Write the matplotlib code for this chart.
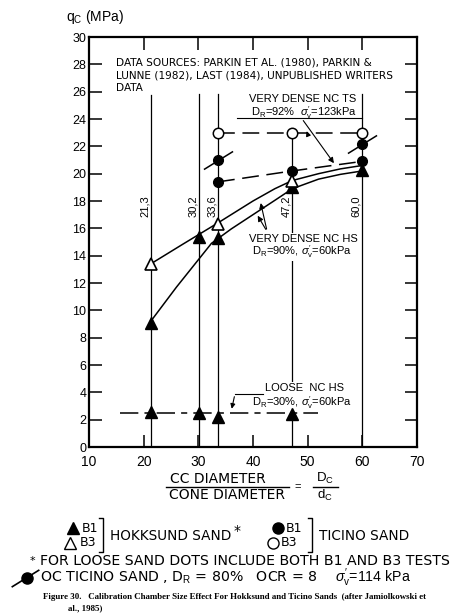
import matplotlib
matplotlib.use('Agg')
import matplotlib.pyplot as plt
from matplotlib.path import Path

plt.rcParams['font.family'] = ['Liberation Sans', 'DejaVu Sans']
plt.rcParams['mathtext.fontset'] = 'custom'
plt.rcParams['mathtext.rm'] = 'Liberation Sans'
plt.rcParams['mathtext.it'] = 'Liberation Sans:italic'
plt.rcParams['mathtext.bf'] = 'Liberation Sans:bold'

# ---------------- data ----------------
dc_ratio = [21.3, 30.2, 33.6, 47.2, 60.0]
ratio_labels = ['21,3', '30,2', '33,6', '47,2', '60,0']
guide_top = [25.75, 25.85, 25.85, 23.0, 25.8]

# Hokksund sand, very dense NC HS
hok_b1_x = [21.3, 30.2, 33.6, 47.2, 60.0]
hok_b1_q = [9.1, 15.4, 15.3, 19.0, 20.3]
hok_b3_x = [21.3, 33.6, 47.2]
hok_b3_q = [13.4, 16.3, 19.5]

# Ticino sand, very dense NC TS
tic_b1_x = [33.6, 47.2, 60.0]
tic_b1_q = [19.4, 20.2, 20.9]
tic_b3_x = [33.6, 47.2, 60.0]
tic_b3_q = [23.0, 23.0, 23.0]

# OC Ticino sand
oc_x = [33.6, 60.0]
oc_q = [21.0, 22.2]

# Loose NC HS
loose_x = [21.3, 30.2, 33.6, 47.2]
loose_q = [2.55, 2.5, 2.2, 2.45]
loose_line_x = [15.7, 51.8]
loose_line_q = [2.5, 2.5]

# hand-drawn trend curves (very dense NC HS)
upper_curve_x = [21.3, 27.0, 33.6, 40.0, 44.0, 47.2, 52.0, 56.0, 60.0]
upper_curve_q = [13.4, 14.8, 16.4, 18.0, 18.9, 19.5, 20.0, 20.35, 20.6]
lower_curve_x = [21.3, 26.0, 32.4, 36.0, 40.0, 44.0, 47.2, 52.0, 56.0, 60.0]
lower_curve_q = [9.2, 11.7, 14.9, 15.95, 17.0, 18.05, 18.9, 19.6, 19.95, 20.2]

x_ticks = [10, 20, 30, 40, 50, 60, 70]
y_ticks = list(range(0, 31, 2))

# ---------------- figure ----------------
W, H = 454, 614
fig = plt.figure(figsize=(W / 100, H / 100), dpi=100)
L, R, T, B = 89, 417, 37, 447
ax = fig.add_axes([L / W, 1 - B / H, (R - L) / W, (B - T) / H])
ax.set_xlim(10, 70)
ax.set_ylim(0, 30)
ax.set_xticks(x_ticks)
ax.set_yticks(y_ticks)
for s in ax.spines.values():
    s.set_linewidth(1.6)
ax.tick_params(axis='both', direction='in', length=9, width=1.1, color='black')
ax.tick_params(axis='x', top=True, labelsize=10, pad=6)
ax.tick_params(axis='y', right=True, labelsize=9, pad=2)

lw = 1.1
# vertical guide lines
for xv, top in zip(dc_ratio, guide_top):
    ax.plot([xv, xv], [0, top], color='black', lw=0.9, zorder=2)
for xv, lab in zip(dc_ratio, ratio_labels):
    ax.annotate(lab, xy=(xv, 17.6), xytext=(-4.5, 0), textcoords='offset points',
                rotation=90, ha='center', va='center', fontsize=8)

# curves
ax.plot(upper_curve_x, upper_curve_q, color='black', lw=lw, zorder=3)
ax.plot(lower_curve_x, lower_curve_q, color='black', lw=lw, zorder=3)
ax.plot(tic_b1_x, tic_b1_q, color='black', lw=lw, dashes=(11, 5), zorder=3)
ax.plot(tic_b3_x, tic_b3_q, color='black', lw=lw, dashes=(11, 5), zorder=3)
ax.plot(loose_line_x, loose_line_q, color='black', lw=lw, dashes=(12, 4, 4, 4), zorder=3)

# markers
ax.plot(hok_b1_x, hok_b1_q, ls='none', marker='^', ms=8.5, color='black', zorder=5)
ax.plot(loose_x, loose_q, ls='none', marker='^', ms=8.5, color='black', zorder=5)
ax.plot(hok_b3_x, hok_b3_q, ls='none', marker='^', ms=8.5, mfc='white', mec='black', mew=1.2, zorder=6)
ax.plot(tic_b1_x, tic_b1_q, ls='none', marker='o', ms=7, color='black', zorder=5)
ax.plot(tic_b3_x, tic_b3_q, ls='none', marker='o', ms=7.5, mfc='white', mec='black', mew=1.1, zorder=5)
slash = Path([(-1, -0.62), (1, 0.62)], [Path.MOVETO, Path.LINETO])
ax.plot(oc_x, oc_q, ls='none', marker='o', ms=7, color='black', zorder=5)
ax.plot(oc_x, oc_q, ls='none', marker=slash, ms=21, mew=1.1, color='black', zorder=5)

# annotations inside the plot
wide = ['DejaVu Sans']
tkw = dict(fontsize=7.6, va='center', family=wide)
ax.text(14.9, 28.1, 'DATA SOURCES: PARKIN ET AL. (1980), PARKIN &', ha='left', **tkw)
ax.text(14.9, 27.15, 'LUNNE (1982), LAST (1984), UNPUBLISHED WRITERS', ha='left', **tkw)
ax.text(14.9, 26.25, 'DATA', ha='left', **tkw)

bb = dict(facecolor='white', edgecolor='none', pad=0.6)
ax.text(49.05, 25.5, 'VERY DENSE NC TS', ha='center', fontsize=8, va='center')
ax.text(49.4, 24.45, r'D$_\mathrm{R}$=92%  $\sigma_\mathrm{v}^{\prime}$=123kPa', ha='center',
        fontsize=8, va='center')
ax.plot([37.1, 59.9], [24.05, 24.05], color='black', lw=0.8)
ax.annotate('', xy=(55.1, 20.6), xytext=(48.9, 24.05),
            arrowprops=dict(arrowstyle='-|>', color='black', lw=0.8, mutation_scale=8))
ax.annotate('', xy=(49.6, 23.3), xytext=(50.3, 22.6),
            arrowprops=dict(arrowstyle='-|>', color='black', lw=0.8, mutation_scale=7))

ax.text(49.3, 15.22, 'VERY DENSE NC HS', ha='center', fontsize=8, va='center', bbox=bb, zorder=4)
ax.text(49.05, 14.27, r'D$_\mathrm{R}$=90%, $\sigma_\mathrm{v}^{\prime}$=60kPa', ha='center',
        fontsize=8, va='center', bbox=bb, zorder=4)
ax.annotate('', xy=(41.3, 18.05), xytext=(42.6, 15.75),
            arrowprops=dict(arrowstyle='-|>', color='black', lw=0.8, mutation_scale=8))
ax.annotate('', xy=(40.6, 17.1), xytext=(42.6, 15.75),
            arrowprops=dict(arrowstyle='-|>', color='black', lw=0.8, mutation_scale=8))

ax.text(49.5, 4.32, 'LOOSE  NC HS', ha='center', fontsize=8, va='center', bbox=bb, zorder=4)
ax.text(48.9, 3.22, r'D$_\mathrm{R}$=30%, $\sigma_\mathrm{v}^{\prime}$=60kPa', ha='center',
        fontsize=8, va='center', bbox=bb, zorder=4)
ax.plot([36.7, 41.8], [3.88, 3.88], color='black', lw=0.8, zorder=4)
ax.annotate('', xy=(36.0, 2.6), xytext=(36.7, 3.88),
            arrowprops=dict(arrowstyle='-|>', color='black', lw=0.8, mutation_scale=7))

# ---------------- overlay (pixel coordinates) ----------------
ov = fig.add_axes([0, 0, 1, 1], facecolor='none')
ov.set_xlim(0, W)
ov.set_ylim(H, 0)
ov.axis('off')

ov.text(66, 17, r'q$_\mathrm{C}$ (MPa)', fontsize=10, ha='left', va='center')

# x-axis label as fraction
ov.text(218, 479, 'CC DIAMETER', fontsize=10, ha='center', va='center', family=wide)
ov.text(227, 495, 'CONE DIAMETER', fontsize=10, ha='center', va='center', family=wide)
ov.plot([166, 289], [487, 487], color='black', lw=1.0)
ov.text(298, 487, '=', fontsize=8, ha='center', va='center')
ov.text(325, 478.5, r'D$_\mathrm{C}$', fontsize=9.5, ha='center', va='center')
ov.text(325, 495.5, r'd$_\mathrm{C}$', fontsize=9.5, ha='center', va='center')
ov.plot([313, 338], [487, 487], color='black', lw=1.0)

# legend
ov.plot([73], [528], marker='^', ms=9, color='black', ls='none')
ov.plot([70], [543], marker='^', ms=9, mfc='white', mec='black', mew=1.0, ls='none')
ov.text(82, 528, 'B1', fontsize=9, ha='left', va='center', family=wide)
ov.text(80, 543, 'B3', fontsize=9, ha='left', va='center', family=wide)
ov.plot([99, 103, 103, 99], [518, 518, 552, 552], color='black', lw=1.0)
ov.text(110, 536, 'HOKKSUND SAND', fontsize=9.8, ha='left', va='center', family=wide)
ov.text(234, 531, '*', fontsize=10, ha='left', va='center', family=wide)

ov.plot([278], [528], marker='o', ms=8, color='black', ls='none')
ov.plot([273], [543], marker='o', ms=8, mfc='white', mec='black', mew=1.0, ls='none')
ov.text(286, 528, 'B1', fontsize=9, ha='left', va='center', family=wide)
ov.text(281, 543, 'B3', fontsize=9, ha='left', va='center', family=wide)
ov.plot([308, 312, 312, 308], [518, 518, 552, 552], color='black', lw=1.0)
ov.text(319, 536, 'TICINO SAND', fontsize=9.8, ha='left', va='center', family=wide)

ov.text(32, 561, '*', fontsize=8, ha='center', va='center', family=wide)
ov.text(40, 561, 'FOR LOOSE SAND DOTS INCLUDE BOTH B1 AND B3 TESTS', fontsize=10.2,
        ha='left', va='center', family=wide)

ov.plot([27], [578], marker='o', ms=8, color='black', ls='none')
ov.plot([25], [578], marker=slash, ms=20, mew=1.2, color='black', ls='none')
ov.text(40, 578, r'OC TICINO SAND , D$_\mathrm{R}$ = 80%   OCR = 8', fontsize=10.2,
        ha='left', va='center', family=wide)
ov.text(335, 578, r"$\sigma_\mathrm{v}^{\prime}$=114 kPa", fontsize=10.2, ha='left', va='center')

cap_kw = dict(fontsize=6.4, ha='left', va='center', family=['Liberation Serif'], weight='bold')
ov.text(43, 597, 'Figure 30.   Calibration Chamber Size Effect For Hokksund and Ticino Sands  '
        '(after Jamiolkowski et', **cap_kw)
ov.text(68, 608, 'al., 1985)', **cap_kw)

fig.savefig('out.png', dpi=100)
